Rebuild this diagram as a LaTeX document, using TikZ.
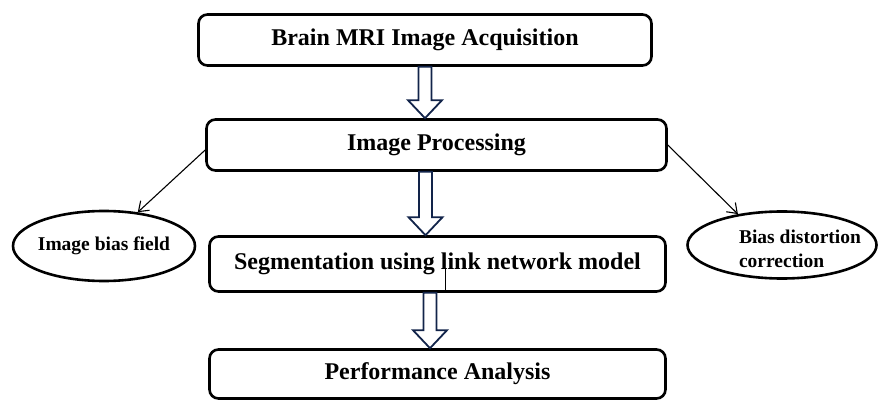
\documentclass[tikz,border=0pt]{standalone}
\usepackage{fontspec}
\setmainfont{Liberation Serif}
\usetikzlibrary{positioning,shapes.geometric,arrows.meta,calc}
\definecolor{arrownavy}{RGB}{18,36,74}
\tikzset{
  procbox/.style={draw, line width=2.6pt, rounded corners=9pt, minimum height=51pt,
    font=\fontsize{24}{27}\selectfont\bfseries},
  ovalbox/.style={draw, ellipse, line width=2.6pt, inner sep=0pt},
  ovaltext/.style={font=\fontsize{19.5}{24}\selectfont\bfseries, align=left, inner sep=0pt},
  thinarrow/.style={-{Straight Barb[length=9pt,width=13pt]}, line width=1.1pt}
}
\newcommand{\hollowdown}[2]{%
  \draw[arrownavy, line width=1.8pt, fill=white, line join=miter]
    let \p1=(#1), \p2=(#2) in
    (\x1-6.5pt,\y1) -- (\x1+6.5pt,\y1) -- (\x1+6.5pt,\y2+18pt) -- (\x1+17pt,\y2+18pt)
    -- (\x1,\y2) -- (\x1-17pt,\y2+18pt) -- (\x1-6.5pt,\y2+18pt) -- cycle;}
\begin{document}
\begin{tikzpicture}[x=1pt, y=-1pt]
\useasboundingbox (0,0) rectangle (882,403);
    \node[procbox, minimum width=453pt](acq) at (425,40) {Brain MRI Image Acquisition};
    \node[procbox, minimum width=460pt](proc) at (436.5,145) {Image Processing};
    \node[procbox, minimum width=456pt, minimum height=55pt](seg) at (437.5,264) {Segmentation using link network model};
    \node[procbox, minimum width=456pt, minimum height=49pt](perf) at (437.5,374) {Performance Analysis};
    \node[ovalbox, minimum width=182pt, minimum height=70pt](bias) at (104,246) {};
    \node[ovaltext](biastext) at (bias) {Image bias field};
    \node[ovalbox, minimum width=189pt, minimum height=67pt](corr) at (782,245) {};
    \node[ovaltext](corrtext) at ([xshift=18pt,yshift=-4pt]corr.center) {Bias distortion\\correction};
% block arrows
\hollowdown{acq.south}{proc.north}
\hollowdown{[xshift=-11pt]proc.south}{seg.north}
\hollowdown{[xshift=-7.5pt]seg.south}{perf.north}
% side arrows
\draw[thinarrow]([yshift=-5pt]proc.west)--(bias.45);
\draw[thinarrow](proc.east)--(corr.145);
\draw[line width=.6pt]([xshift=7.5pt]seg.south)--++(0,-25);

\end{tikzpicture}
\end{document}
